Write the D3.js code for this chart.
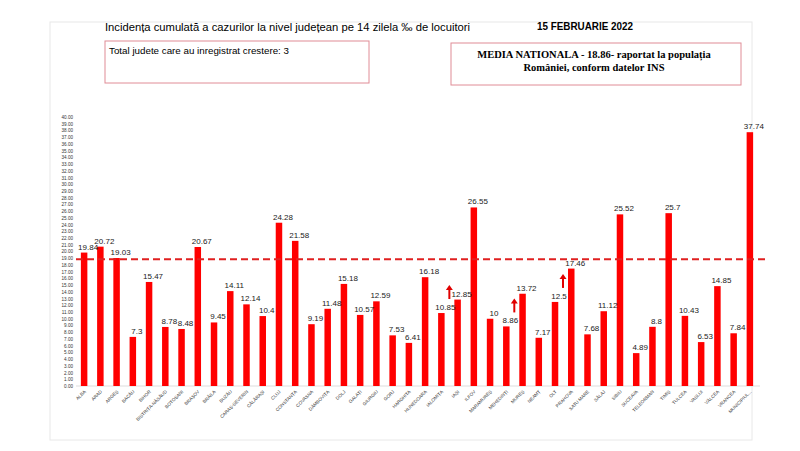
<!DOCTYPE html>
<html><head><meta charset="utf-8">
<script src="https://cdn.jsdelivr.net/npm/d3@7"></script>
<style>body{margin:0;background:#fff;font-family:"Liberation Sans",sans-serif}</style>
</head><body><svg id="chart" width="800" height="451"></svg>
<script>
// Counties and 14-day incidence values
var counties = ["ALBA","ARAD","ARGEȘ","BACĂU","BIHOR","BISTRIȚA-NĂSĂUD","BOTOȘANI","BRAȘOV","BRĂILA","BUZĂU","CARAȘ-SEVERIN","CĂLĂRAȘI","CLUJ","CONSTANȚA","COVASNA","DÂMBOVIȚA","DOLJ","GALAȚI","GIURGIU","GORJ","HARGHITA","HUNEDOARA","IALOMIȚA","IAȘI","ILFOV","MARAMUREȘ","MEHEDINȚI","MUREȘ","NEAMȚ","OLT","PRAHOVA","SATU MARE","SĂLAJ","SIBIU","SUCEAVA","TELEORMAN","TIMIȘ","TULCEA","VASLUI","VÂLCEA","VRANCEA","MUNICIPIUL..."];
var values = [19.84,20.72,19.03,7.3,15.47,8.78,8.48,20.67,9.45,14.11,12.14,10.4,24.28,21.58,9.19,11.48,15.18,10.57,12.59,7.53,6.41,16.18,10.85,12.85,26.55,10,8.86,13.72,7.17,12.5,17.46,7.68,11.12,25.52,4.89,8.8,25.7,10.43,6.53,14.85,7.84,37.74];
var rising = ["IALOMIȚA","MEHEDINȚI","OLT"];
var nationalAvg = 18.86;
var yTicks = d3.range(0, 41, 1);

var svg = d3.select("#chart");

// Outer frame
svg.append("rect").attr("x",50).attr("y",22).attr("width",702).attr("height",418)
  .attr("fill","none").attr("stroke","#e8e8e8");

// Titles
svg.append("text").attr("x",105).attr("y",31).attr("font-size",10.5).attr("textLength",365).attr("lengthAdjust","spacingAndGlyphs")
  .text("Incidența cumulată a cazurilor la nivel județean pe 14 zilela ‰ de locuitori");
svg.append("text").attr("x",537).attr("y",30).attr("font-size",10.5).attr("font-weight","bold").attr("textLength",96).attr("lengthAdjust","spacingAndGlyphs")
  .text("15 FEBRUARIE 2022");

// Info boxes
svg.append("rect").attr("x",105).attr("y",41).attr("width",264).attr("height",42).attr("fill","none").attr("stroke","#e08c96");
svg.append("text").attr("x",109).attr("y",54).attr("font-size",9.5).attr("textLength",180).attr("lengthAdjust","spacingAndGlyphs")
  .text("Total judete care au inregistrat crestere: 3");
svg.append("rect").attr("x",451).attr("y",43).attr("width",290).attr("height",42).attr("fill","none").attr("stroke","#e08c96");
svg.append("text").attr("x",594).attr("y",58).attr("text-anchor","middle").attr("font-size",10.5).attr("font-weight","bold").attr("font-family","Liberation Serif")
  .text("MEDIA NATIONALA - 18.86-  raportat la populația");
svg.append("text").attr("x",594).attr("y",71).attr("text-anchor","middle").attr("font-size",10.5).attr("font-weight","bold").attr("font-family","Liberation Serif")
  .text("României, conform datelor INS");

// Scales
var x = d3.scaleBand().domain(counties).range([76, 758]).paddingInner(0.6).paddingOuter(0.3);
var y = d3.scaleLinear().domain([0, 40]).range([386, 117]);

// Y axis
var yAxis = d3.axisLeft(y).tickValues(yTicks).tickFormat(d3.format(".2f")).tickSize(0).tickPadding(3);
var gy = svg.append("g").attr("transform","translate(76,0)").call(yAxis);
gy.select(".domain").remove();
gy.selectAll("text").attr("font-size",4.6).attr("fill","#333");

// Baseline
svg.append("line").attr("x1",76).attr("x2",760).attr("y1",y(0)).attr("y2",y(0)).attr("stroke","#ddd");

// Bars
svg.selectAll(".bar").data(values).enter().append("rect")
  .attr("x", function(d,i){ return x(counties[i]); })
  .attr("y", function(d){ return y(d); })
  .attr("width", x.bandwidth())
  .attr("height", function(d){ return y(0) - y(d); })
  .attr("fill","#ff0000");

// Value labels
svg.selectAll(".lbl").data(values).enter().append("text")
  .attr("x", function(d,i){ return x(counties[i]) + x.bandwidth()/2 + 4; })
  .attr("y", function(d){ return y(d) - 3; })
  .attr("text-anchor","middle").attr("font-size",8).attr("fill","#222")
  .text(function(d){ return d; });

// National average line
svg.append("line").attr("x1",76).attr("x2",765).attr("y1",y(nationalAvg)).attr("y2",y(nationalAvg))
  .attr("stroke","#e02020").attr("stroke-width",2).attr("stroke-dasharray","7,4");

// Rising arrows
rising.forEach(function(c){
  var cx = x(c) + x.bandwidth()/2 + 8, v = values[counties.indexOf(c)];
  var top = y(v) - 28, bot = y(v) - 14;
  svg.append("line").attr("x1",cx).attr("x2",cx).attr("y1",top+4).attr("y2",bot).attr("stroke","#e00000").attr("stroke-width",2);
  svg.append("path").attr("d","M"+(cx-3.5)+","+(top+5)+"L"+cx+","+top+"L"+(cx+3.5)+","+(top+5)+"Z").attr("fill","#e00000");
});

// X labels
svg.selectAll(".xl").data(counties).enter().append("text")
  .attr("transform", function(d){ return "translate(" + (x(d) + x.bandwidth()/2 + 2) + ",392) rotate(-45)"; })
  .attr("text-anchor","end").attr("font-size",4.6).attr("fill","#333")
  .text(function(d){ return d; });
</script></body></html>
